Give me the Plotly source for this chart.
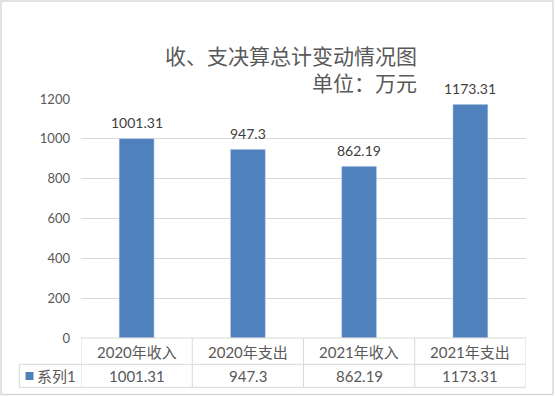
import plotly.graph_objects as go

categories = ["2020年收入", "2020年支出", "2021年收入", "2021年支出"]
values = [1001.31, 947.3, 862.19, 1173.31]
series_name = "系列1"
title_line1 = "收、支决算总计变动情况图"
title_line2 = "单位：万元"
y_ticks = [0, 200, 400, 600, 800, 1000, 1200]

W, H = 555, 396
L, R, T, B = 81, 526, 99, 338  # plot area in pixels
pw, ph = R - L, B - T

def px(x):
    return (x - L) / pw

def py(y):
    return (B - y) / ph

BAR = "#4F81BD"
GRID = "#D9D9D9"
TXT = "#595959"
FONT = "Lato, 'Noto Sans CJK SC', sans-serif"
CJK = "'Noto Sans CJK SC', sans-serif"

fig = go.Figure()
fig.add_trace(go.Bar(x=categories, y=values, marker_color=BAR, name=series_name,
                     hoverinfo="skip"))

annotations = []
# data labels above bars
for c, v in zip(categories, values):
    annotations.append(dict(x=c, y=v, xref="x", yref="y", text=str(v), showarrow=False,
                            yanchor="middle", yshift=16,
                            font=dict(family=FONT, size=14, color="#404040")))
# table: category row and value row
for i, (c, v) in enumerate(zip(categories, values)):
    annotations.append(dict(x=i, y=py(351.5), xref="x", yref="paper", text=c, showarrow=False,
                            yanchor="middle", font=dict(family=FONT, size=15, color=TXT)))
    annotations.append(dict(x=i, y=py(376), xref="x", yref="paper", text=str(v), showarrow=False,
                            yanchor="middle", font=dict(family=FONT, size=15, color=TXT)))
annotations.append(dict(x=px(35), y=py(376), xref="paper", yref="paper", text=series_name,
                        showarrow=False, xanchor="left", yanchor="middle",
                        font=dict(family=FONT, size=15, color=TXT)))
# title (two lines, right aligned)
annotations.append(dict(x=px(419), y=py(68), xref="paper", yref="paper",
                        text=title_line1 + "<br>" + title_line2,
                        showarrow=False, xanchor="right", yanchor="middle", align="right",
                        font=dict(family=CJK, size=21, color=TXT)))

line = dict(color=GRID, width=1)
shapes = []
# horizontal table lines
shapes.append(dict(type="line", xref="paper", yref="paper", x0=0, x1=1, y0=py(338), y1=py(338), line=line))
for yy in (364.3, 387.3):
    shapes.append(dict(type="line", xref="paper", yref="paper", x0=px(19.3), x1=1, y0=py(yy), y1=py(yy), line=line))
# vertical table lines at category boundaries
for k in range(len(categories) + 1):
    shapes.append(dict(type="line", xref="x", yref="paper", x0=k - 0.5, x1=k - 0.5,
                       y0=py(338), y1=py(387.3), line=line))
shapes.append(dict(type="line", xref="paper", yref="paper", x0=px(19.3), x1=px(19.3),
                   y0=py(364.3), y1=py(387.3), line=line))
# legend key square
shapes.append(dict(type="rect", xref="paper", yref="paper", x0=px(25.5), x1=px(33.5),
                   y0=py(380), y1=py(372), fillcolor=BAR, line=dict(width=0)))
# outer chart border
shapes.append(dict(type="rect", xref="paper", yref="paper", x0=px(1), x1=px(553),
                   y0=py(1), y1=py(394.5), line=dict(color=GRID, width=1.5)))

fig.update_layout(
    width=W, height=H,
    margin=dict(l=L, r=W - R, t=T, b=H - B),
    paper_bgcolor="white", plot_bgcolor="white",
    showlegend=False,
    bargap=0.685,
    annotations=annotations,
    shapes=shapes,
    xaxis=dict(type="category", range=[-0.5, 3.5], showticklabels=False, showgrid=False,
               zeroline=False, showline=False, fixedrange=True),
    yaxis=dict(range=[0, 1200], tickvals=y_ticks, showgrid=True, gridcolor=GRID, gridwidth=1,
               zeroline=False, showline=False, ticks="", ticklabelstandoff=10,
               tickfont=dict(family=FONT, size=13, color=TXT), fixedrange=True),
)

fig.write_html("out.html", config={"displayModeBar": False},
               post_script="document.body.style.margin='0';document.body.style.padding='0';")
